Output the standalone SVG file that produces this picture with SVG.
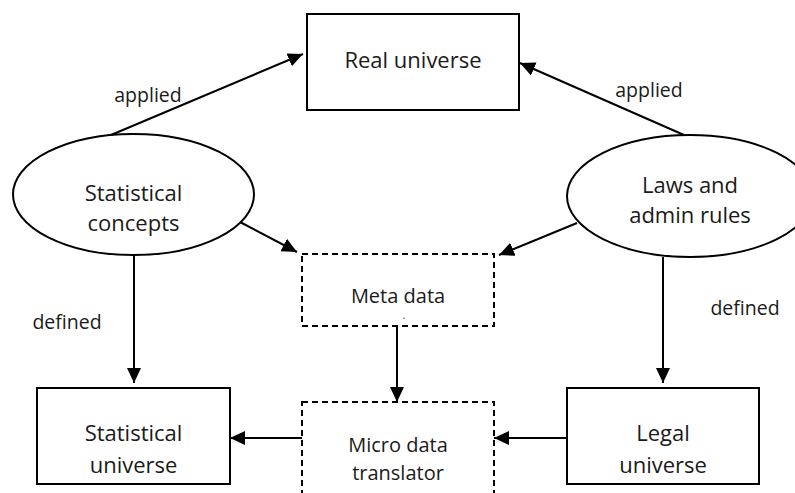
<svg xmlns="http://www.w3.org/2000/svg" width="795" height="493" viewBox="0 0 795 493">
<style>
.box{fill:#fff;stroke:#000;stroke-width:2}
.dash{fill:#fff;stroke:#000;stroke-width:2;stroke-dasharray:6,4}
.ell{fill:#fff;stroke:#000;stroke-width:2}
.t{font-family:"Open Sans","Noto Sans","Liberation Sans",sans-serif;font-size:22px;fill:#1a1a1a;text-anchor:middle}
.s{font-family:"Open Sans","Noto Sans","Liberation Sans",sans-serif;font-size:20px;fill:#1a1a1a;text-anchor:middle}
.l{font-family:"Open Sans","Noto Sans","Liberation Sans",sans-serif;font-size:19.5px;fill:#1a1a1a;text-anchor:middle}
.c{stroke:#000;stroke-width:2;fill:none;marker-end:url(#ah)}
</style>
<defs>
<marker id="ah" markerUnits="userSpaceOnUse" markerWidth="16" markerHeight="16" viewBox="0 0 16 16" refX="15" refY="8" orient="auto">
<path d="M0,1 L15,8 L0,15 Z" fill="#000"/>
</marker>
</defs>
<rect width="795" height="493" fill="#fff"/>
<g id="real-universe">
<rect class="box" x="307" y="14" width="212" height="96"/>
<text class="t" x="413" y="68">Real universe</text>
</g>
<g id="statistical-concepts">
<ellipse class="ell" cx="133.5" cy="194.5" rx="120.5" ry="60.5"/>
<text class="t" x="133.5" y="201">Statistical</text>
<text class="t" x="133.5" y="231">concepts</text>
</g>
<g id="laws-admin-rules">
<ellipse class="ell" cx="690" cy="196" rx="123" ry="61"/>
<text class="t" x="690" y="193">Laws and</text>
<text class="t" x="690" y="223">admin rules</text>
</g>
<g id="meta-data">
<rect class="dash" x="302" y="254" width="192" height="72"/>
<text class="s" x="398" y="303">Meta data</text>
<text class="s" x="404" y="319" style="font-size:10px">.</text>
</g>
<g id="statistical-universe">
<rect class="box" x="37" y="388" width="193" height="96"/>
<text class="t" x="133.5" y="441">Statistical</text>
<text class="t" x="133.5" y="473">universe</text>
</g>
<g id="micro-data-translator">
<rect class="dash" x="302" y="402" width="192" height="100"/>
<text class="s" x="398" y="452">Micro data</text>
<text class="s" x="398" y="480">translator</text>
</g>
<g id="legal-universe">
<rect class="box" x="567" y="388" width="192" height="96"/>
<text class="t" x="663" y="441">Legal</text>
<text class="t" x="663" y="473">universe</text>
</g>
<g id="connectors">
<line class="c" x1="111" y1="135" x2="303" y2="54"/>
<line class="c" x1="684" y1="135" x2="520" y2="63"/>
<line class="c" x1="240" y1="222" x2="297" y2="252"/>
<line class="c" x1="577" y1="223" x2="499" y2="255"/>
<line class="c" x1="134" y1="255" x2="134" y2="383"/>
<line class="c" x1="663" y1="257" x2="663" y2="383"/>
<line class="c" x1="397" y1="326" x2="397" y2="402"/>
<line class="c" x1="302" y1="438" x2="230" y2="438"/>
<line class="c" x1="567" y1="438" x2="494" y2="438"/>
</g>
<g id="labels">
<text class="l" x="148" y="102">applied</text>
<text class="l" x="649" y="97">applied</text>
<text class="l" x="67" y="329">defined</text>
<text class="l" x="745" y="315">defined</text>
</g>
</svg>
